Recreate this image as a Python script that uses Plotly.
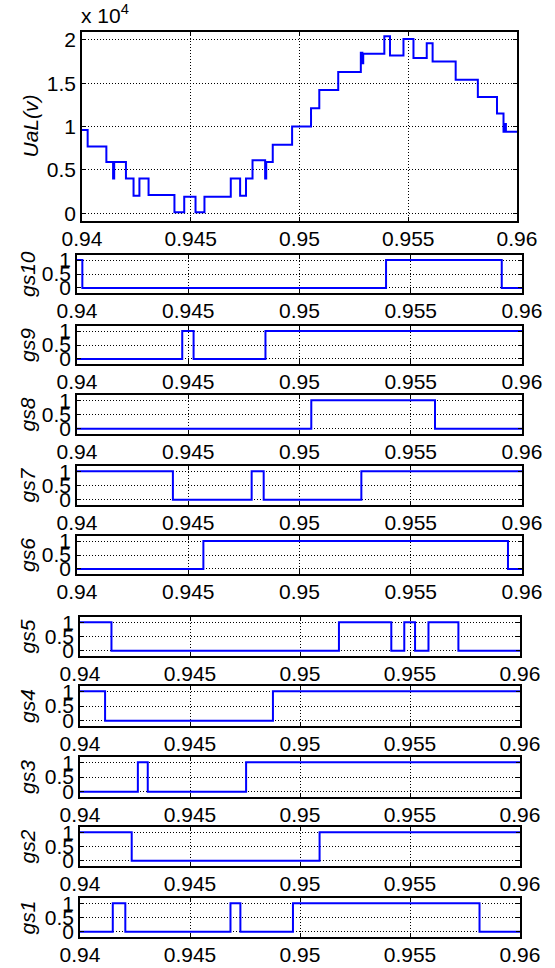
import plotly.graph_objects as go

# ---------------- data ----------------
x_ticks = [0.94, 0.945, 0.95, 0.955, 0.96]
x_ticktext = ["0.94", "0.945", "0.95", "0.955", "0.96"]

# UaL (in units of 1e4 V): switching instants and level after each instant
ual_t = [0.94, 0.94026, 0.94112, 0.94143, 0.94148, 0.94202, 0.94237, 0.94264,
         0.94306, 0.94425, 0.94470, 0.94522, 0.94563, 0.94684, 0.94727, 0.94754,
         0.94784, 0.94842, 0.94847, 0.94877, 0.94966, 0.95053, 0.95091, 0.95178,
         0.95282, 0.95289, 0.95293, 0.95390, 0.95416, 0.95478, 0.95524, 0.95585,
         0.95612, 0.95718, 0.95820, 0.95908, 0.95938, 0.95945, 0.95949, 0.96]
ual_v = [0.96, 0.77, 0.59, 0.40, 0.59, 0.40, 0.20, 0.40,
         0.21, 0.01, 0.19, 0.01, 0.19, 0.40, 0.20, 0.40,
         0.61, 0.40, 0.59, 0.79, 1.00, 1.21, 1.42, 1.63,
         1.85, 1.73, 1.84, 2.04, 1.82, 2.01, 1.79, 1.96,
         1.75, 1.54, 1.34, 1.15, 0.94, 1.03, 0.94, 0.94]
ual_ticks = [0, 0.5, 1, 1.5, 2]
ual_ticktext = ["0", "0.5", "1", "1.5", "2"]

gate_ticks = [0, 0.5, 1]
gate_ticktext = ["0", "0.5", "1"]

gs10_t = [0.94, 0.94024, 0.95389, 0.95909, 0.96]
gs10_v = [1, 0, 1, 0, 0]
gs9_t = [0.94, 0.94473, 0.94524, 0.94847, 0.96]
gs9_v = [0, 1, 0, 1, 1]
gs8_t = [0.94, 0.95053, 0.95609, 0.96]
gs8_v = [0, 1, 0, 0]
gs7_t = [0.94, 0.94431, 0.94785, 0.94839, 0.95278, 0.96]
gs7_v = [1, 0, 1, 0, 1, 1]
gs6_t = [0.94, 0.94568, 0.95937, 0.96]
gs6_v = [0, 1, 0, 0]
gs5_t = [0.94, 0.94143, 0.95177, 0.95415, 0.95474, 0.95523, 0.95584, 0.95720, 0.96]
gs5_v = [1, 0, 1, 0, 1, 0, 1, 0, 0]
gs4_t = [0.94, 0.94114, 0.94877, 0.96]
gs4_v = [1, 0, 1, 1]
gs3_t = [0.94, 0.94263, 0.94308, 0.94755, 0.96]
gs3_v = [0, 1, 0, 1, 1]
gs2_t = [0.94, 0.94235, 0.95089, 0.96]
gs2_v = [1, 0, 1, 1]
gs1_t = [0.94, 0.94149, 0.94206, 0.94684, 0.94729, 0.94968, 0.95816, 0.96]
gs1_v = [0, 1, 0, 1, 0, 1, 0, 0]

gate_names = ["gs10", "gs9", "gs8", "gs7", "gs6", "gs5", "gs4", "gs3", "gs2", "gs1"]
gate_t = [gs10_t, gs9_t, gs8_t, gs7_t, gs6_t, gs5_t, gs4_t, gs3_t, gs2_t, gs1_t]
gate_v = [gs10_v, gs9_v, gs8_v, gs7_v, gs6_v, gs5_v, gs4_v, gs3_v, gs2_v, gs1_v]

# ---------------- layout geometry (pixels) ----------------
W, H = 555, 968
# (left, right, top, bottom) of each plot box
boxes = [
    (82, 517, 32, 221),     # UaL
    (77, 522, 255, 293),    # gs10
    (77, 522, 326, 364),    # gs9
    (77, 522, 395, 434),    # gs8
    (77, 522, 466, 505),    # gs7
    (77, 522, 536, 574),    # gs6
    (80, 520, 617, 656),    # gs5
    (80, 520, 686, 726),    # gs4
    (80, 520, 757, 797),    # gs3
    (80, 520, 827, 866),    # gs2
    (80, 520, 898, 937),    # gs1
]

FONT = "Liberation Sans, Arial, Helvetica, sans-serif"
FS = 21
BLUE = "#0000FF"

fig = go.Figure()
layout = dict(
    width=W, height=H, margin=dict(l=0, r=0, t=0, b=0, autoexpand=False),
    paper_bgcolor="white", plot_bgcolor="white", showlegend=False,
    font=dict(family=FONT, size=FS, color="black"),
)

def axis_common():
    return dict(
        showline=True, linecolor="black", linewidth=1.5, mirror="allticks",
        ticks="inside", ticklen=4, tickcolor="black", tickwidth=1,
        showgrid=True, gridcolor="black", griddash="1px,2px", gridwidth=1,
        zeroline=False, automargin=False,
        tickfont=dict(family=FONT, size=FS, color="black"),
    )

annotations = []
series_t = [ual_t] + gate_t
series_v = [ual_v] + gate_v
labels = ["<i>UaL(v)</i>"] + ["<i>%s</i>" % n for n in gate_names]

for i, (box, ts, vs, lab) in enumerate(zip(boxes, series_t, series_v, labels)):
    l, r, t, b = box
    xa = "xaxis" if i == 0 else "xaxis%d" % (i + 1)
    ya = "yaxis" if i == 0 else "yaxis%d" % (i + 1)
    xr = "x" if i == 0 else "x%d" % (i + 1)
    yr = "y" if i == 0 else "y%d" % (i + 1)
    fig.add_trace(go.Scatter(x=ts, y=vs, mode="lines", line=dict(color=BLUE, width=2, shape="hv"),
                             xaxis=xr, yaxis=yr, hoverinfo="skip"))
    xd = axis_common()
    xd.update(domain=[l / W, r / W], range=[0.94, 0.96], tickvals=x_ticks, ticktext=x_ticktext,
              anchor=yr, ticklabelstandoff=-2)
    yd = axis_common()
    if i == 0:
        yd.update(range=[-0.09, 2.09], tickvals=ual_ticks, ticktext=ual_ticktext)
    else:
        yd.update(range=[-0.18, 1.18], tickvals=gate_ticks, ticktext=gate_ticktext)
    yd.update(domain=[1 - b / H, 1 - t / H], anchor=xr)
    layout[xa] = xd
    layout[ya] = yd
    annotations.append(dict(
        text=lab, textangle=-90, x=(27 if i else 30) / W, y=1 - ((t + b) / 2) / H,
        xref="paper", yref="paper", xanchor="center", yanchor="middle", showarrow=False,
        font=dict(family=FONT, size=FS, color="black"),
    ))

annotations.append(dict(
    text="x 10<sup>4</sup>", x=79 / W, y=1 - 29 / H, xref="paper", yref="paper",
    xanchor="left", yanchor="bottom", showarrow=False,
    font=dict(family=FONT, size=FS, color="black"),
))
layout["annotations"] = annotations
fig.update_layout(**layout)
fig.write_html("out.html")
